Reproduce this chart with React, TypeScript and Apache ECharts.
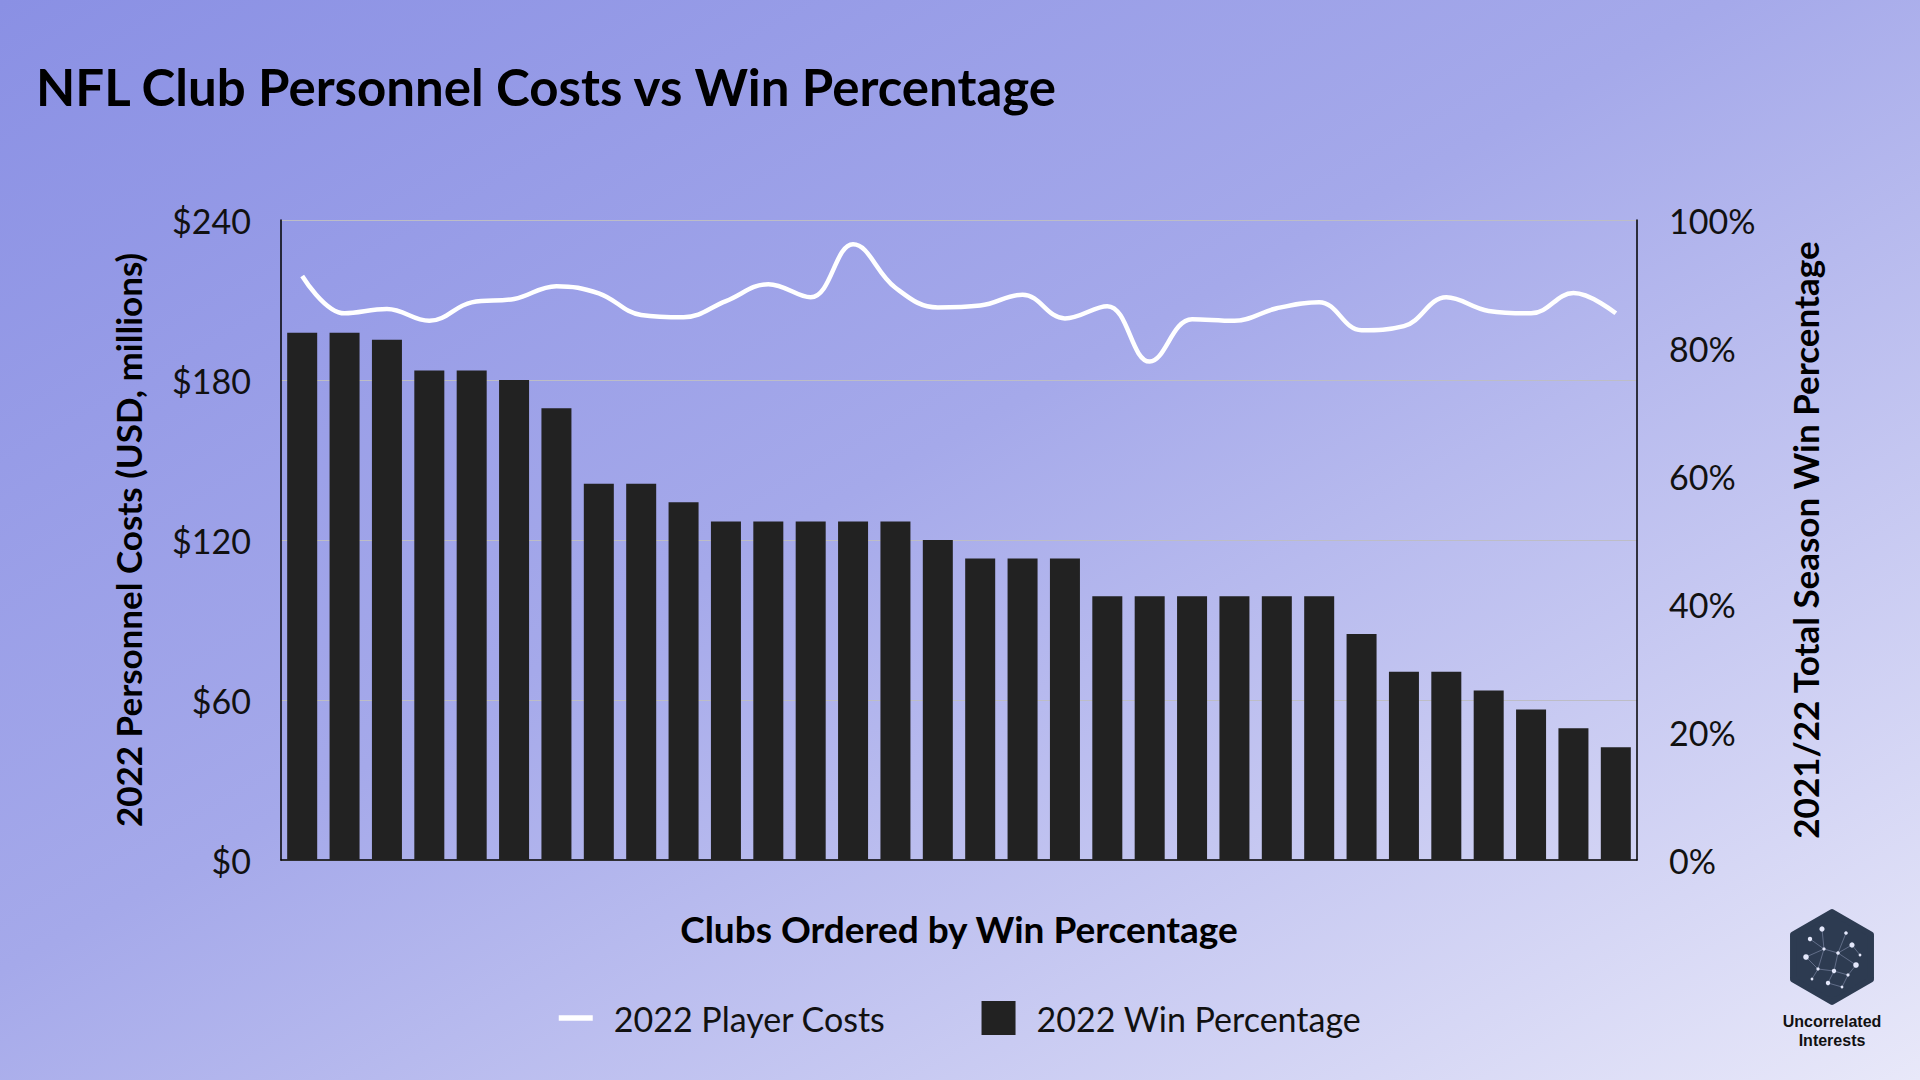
import React, { useEffect, useRef } from "react";
import * as echarts from "echarts";

// clubs ranked by 2022 win percentage (1 = best)
const clubs = [
  "1", "2", "3", "4", "5", "6", "7", "8", "9", "10", "11", "12", "13", "14", "15", "16",
  "17", "18", "19", "20", "21", "22", "23", "24", "25", "26", "27", "28", "29", "30", "31", "32",
];

// 2022 win percentage (%)
const winPct = [
  82.4, 82.4, 81.3, 76.5, 76.5, 75.0, 70.6, 58.8, 58.8, 55.9, 52.9, 52.9, 52.9, 52.9, 52.9, 50.0,
  47.1, 47.1, 47.1, 41.2, 41.2, 41.2, 41.2, 41.2, 41.2, 35.3, 29.4, 29.4, 26.5, 23.5, 20.6, 17.6,
];

// 2022 player costs (USD, millions)
const playerCosts = [
  219.0, 205.0, 206.6, 202.2, 209.1, 210.4, 215.2, 212.5, 204.4, 203.5, 209.6, 215.9, 211.0, 230.9,
  214.6, 207.2, 207.9, 212.0, 203.1, 207.7, 186.9, 202.8, 202.2, 206.9, 209.2, 198.7, 200.2, 211.0,
  205.9, 205.0, 212.6, 205.0,
];

const costTicks = [0, 60, 120, 180, 240];
const pctTicks = [0, 20, 40, 60, 80, 100];

const FONT = "Lato, 'Noto Sans', sans-serif";

// little network drawn inside the logo hexagon
const logoDots: [number, number, number][] = [
  [-10, -28, 2.6], [-22, -18, 2.2], [14, -24, 1.8], [20, -12, 2.6], [-26, 0, 2.8],
  [-8, -8, 1.6], [6, -4, 1.8], [24, 8, 2.8], [-14, 12, 1.6], [2, 14, 2.2],
  [16, 18, 1.6], [-4, 26, 2.2], [-20, 22, 1.4], [10, 30, 1.4], [28, -2, 1.4],
];
const logoLinks: [number, number][] = [
  [0, 5], [1, 5], [5, 6], [2, 6], [3, 6], [4, 8], [5, 8], [8, 9], [6, 9],
  [9, 10], [7, 10], [9, 11], [8, 12], [11, 13], [3, 14], [6, 7], [4, 5], [10, 13],
];

const App: React.FC = () => {
  const chartRef = useRef<HTMLDivElement>(null);

  useEffect(() => {
    document.body.style.margin = "0";
    if (!chartRef.current) return;
    const chart = echarts.init(chartRef.current, undefined, { renderer: "svg" });

    const hexR = 45;
    const hexPts: number[][] = [];
    for (let k = 0; k < 6; k++) {
      const a = (Math.PI / 3) * k - Math.PI / 2;
      hexPts.push([hexR * Math.cos(a), hexR * Math.sin(a)]);
    }

    const logo = {
      type: "group",
      x: 1832,
      y: 957,
      children: [
        {
          type: "polygon",
          shape: { points: hexPts },
          style: {
            fill: "#2d3b51",
            stroke: "#2d3b51",
            lineWidth: 6,
            lineJoin: "round",
          },
        },
        ...logoLinks.map(([a, b]) => ({
          type: "line",
          shape: {
            x1: logoDots[a][0],
            y1: logoDots[a][1],
            x2: logoDots[b][0],
            y2: logoDots[b][1],
          },
          style: { stroke: "rgba(190,200,235,0.45)", lineWidth: 0.8 },
        })),
        ...logoDots.map(([cx, cy, r]) => ({
          type: "circle",
          shape: { cx, cy, r },
          style: { fill: "#e4e8fb" },
        })),
        {
          type: "text",
          x: 0,
          y: 64,
          style: {
            text: "Uncorrelated",
            fill: "#111",
            font: "bold 16px 'Liberation Sans', Arial, sans-serif",
            textAlign: "center",
            textVerticalAlign: "middle",
          },
        },
        {
          type: "text",
          x: 0,
          y: 83,
          style: {
            text: "Interests",
            fill: "#111",
            font: "bold 16px 'Liberation Sans', Arial, sans-serif",
            textAlign: "center",
            textVerticalAlign: "middle",
          },
        },
      ],
    };

    chart.setOption({
      animation: false,
      backgroundColor: new echarts.graphic.LinearGradient(0, 0, 1, 1, [
        { offset: 0, color: "#8a90e4" },
        { offset: 0.45, color: "#a5a9ea" },
        { offset: 1, color: "#e8e8f9" },
      ]),
      textStyle: { fontFamily: FONT },
      title: {
        text: "NFL Club Personnel Costs vs Win Percentage",
        left: 31,
        top: 56,
        textStyle: { fontSize: 51, fontWeight: "bold", color: "#000", fontFamily: FONT },
      },
      grid: { left: 281, right: 283, top: 220, bottom: 220 },
      legend: {
        bottom: 40,
        left: "center",
        itemWidth: 34,
        itemHeight: 34,
        itemGap: 96,
        textStyle: { fontSize: 34, color: "#111", fontFamily: FONT, padding: [0, 0, 0, 16] },
        data: [
          { name: "2022 Player Costs", icon: "path://M0,0 H32 V5 H0 Z", itemStyle: { color: "#ffffff" } },
          { name: "2022 Win Percentage", icon: "rect" },
        ],
      },
      xAxis: {
        type: "category",
        data: clubs,
        name: "Clubs Ordered by Win Percentage",
        nameLocation: "middle",
        nameGap: 50,
        nameTextStyle: { fontSize: 37, fontWeight: "bold", color: "#000", fontFamily: FONT },
        axisLine: { lineStyle: { color: "#000", width: 1.5 } },
        axisTick: { show: false },
        axisLabel: { show: false },
      },
      yAxis: [
        {
          type: "value",
          min: costTicks[0],
          max: costTicks[costTicks.length - 1],
          interval: costTicks[1] - costTicks[0],
          name: "2022 Personnel Costs (USD, millions)",
          nameLocation: "middle",
          nameRotate: 90,
          nameGap: 136,
          nameTextStyle: { fontSize: 35, fontWeight: "bold", color: "#000", fontFamily: FONT },
          axisLine: { show: true, lineStyle: { color: "#000", width: 1.5 } },
          axisTick: { show: false },
          axisLabel: {
            formatter: (v: number) => `$${v}`,
            fontSize: 34,
            color: "#111",
            margin: 30,
            fontFamily: FONT,
          },
          splitLine: { lineStyle: { color: "#bdbdc6", width: 1 } },
        },
        {
          type: "value",
          min: pctTicks[0],
          max: pctTicks[pctTicks.length - 1],
          interval: pctTicks[1] - pctTicks[0],
          position: "right",
          name: "2021/22 Total Season Win Percentage",
          nameLocation: "middle",
          nameRotate: 90,
          nameGap: 150,
          nameTextStyle: { fontSize: 35, fontWeight: "bold", color: "#000", fontFamily: FONT },
          axisLine: { show: true, lineStyle: { color: "#000", width: 1.5 } },
          axisTick: { show: false },
          axisLabel: {
            formatter: (v: number) => `${v}%`,
            fontSize: 34,
            color: "#111",
            margin: 32,
            fontFamily: FONT,
          },
          splitLine: { show: false },
        },
      ],
      series: [
        {
          name: "2022 Win Percentage",
          type: "bar",
          yAxisIndex: 1,
          data: winPct,
          barWidth: 30,
          itemStyle: { color: "#222222" },
          z: 2,
        },
        {
          name: "2022 Player Costs",
          type: "line",
          yAxisIndex: 0,
          data: playerCosts,
          smooth: 0.4,
          symbol: "none",
          lineStyle: { color: "#ffffff", width: 4.5 },
          itemStyle: { color: "#ffffff" },
          z: 3,
        },
      ],
      graphic: [logo],
    });

    const handleResize = () => chart.resize();
    window.addEventListener("resize", handleResize);

    return () => {
      chart.dispose();
      window.removeEventListener("resize", handleResize);
    };
  }, []);

  return (
    <div
      ref={chartRef}
      style={{ position: "fixed", left: 0, top: 0, width: "100vw", height: "100vh" }}
    />
  );
};

export default App;
